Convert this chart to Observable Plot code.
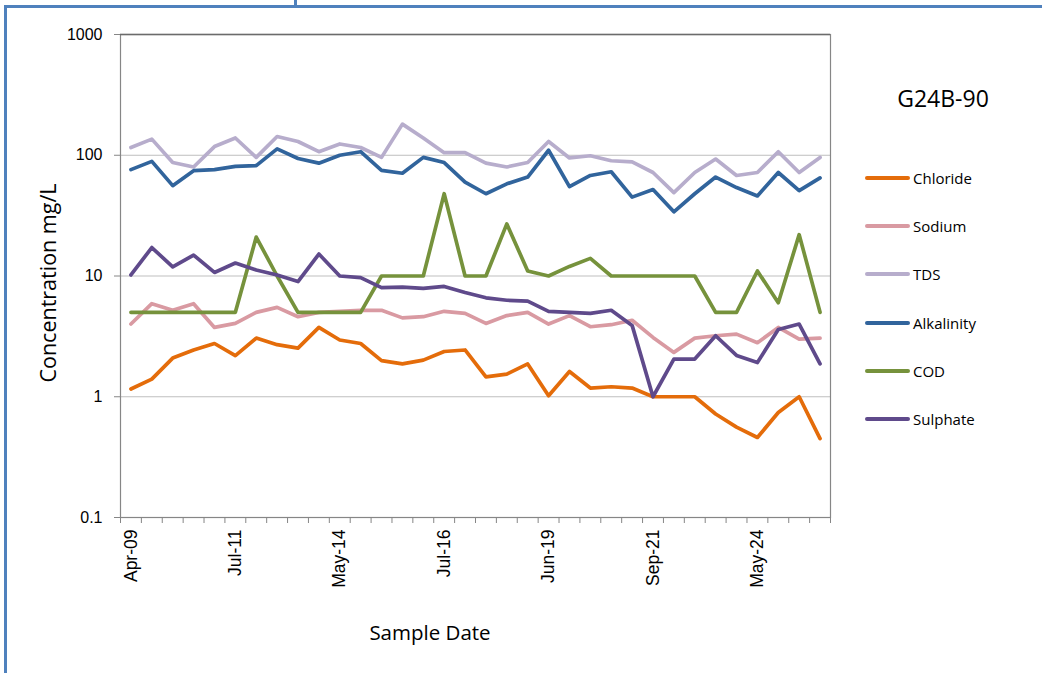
<!DOCTYPE html>
<html>
<head>
<meta charset="utf-8">
<script src="https://cdn.jsdelivr.net/npm/d3@7"></script>
<script src="https://cdn.jsdelivr.net/npm/@observablehq/plot@0.6"></script>
<style>
  html, body { margin: 0; padding: 0; background: #fff; }
  #wrap { position: relative; width: 1042px; height: 673px; overflow: hidden; font-family: "Open Sans", "Noto Sans", sans-serif; color: #000; }
  #wrap svg { position: absolute; left: 0; top: 0; }
  .bar { position: absolute; background: #4f81bd; }
  .ttl { position: absolute; white-space: nowrap; }
  .leg-item { position: absolute; display: flex; align-items: center; font-size: 15px; white-space: nowrap; }
  .leg-sw { width: 45px; height: 4px; margin-right: 3px; border-radius: 2px; }
</style>
</head>
<body>
<div id="wrap"></div>
<script>
// ---- data ----
const siteName = "G24B-90";
const yTitle = "Concentration mg/L";
const xTitle = "Sample Date";
const tickLabels = ["Apr-09", "Jul-11", "May-14", "Jul-16", "Jun-19", "Sep-21", "May-24"];
const labelEvery = 5; // one date label every 5 samples
const yTicks = [0.1, 1, 10, 100, 1000];
const seriesNames = ["Chloride", "Sodium", "TDS", "Alkalinity", "COD", "Sulphate"];
const seriesColors = ["#e46c0a", "#d99aa2", "#b7adcc", "#31649c", "#76923c", "#5f4a8b"];

const chloride   = [1.16,1.40,2.09,2.44,2.76,2.19,3.06,2.70,2.53,3.75,2.95,2.76,1.99,1.87,2.01,2.37,2.44,1.46,1.54,1.87,1.02,1.62,1.18,1.21,1.18,1.0,1.0,1.0,0.72,0.56,0.46,0.74,1.0,0.45];
const sodium     = [4.0,5.9,5.2,5.9,3.75,4.05,5.0,5.5,4.6,5.0,5.1,5.2,5.2,4.5,4.6,5.1,4.9,4.05,4.7,5.0,4.0,4.7,3.8,3.95,4.3,3.1,2.33,3.06,3.2,3.3,2.8,3.75,3.0,3.06];
const tds        = [116,136,87,80,118,139,96,143,130,107,124,116,96,181,139,105,105,86,80,87,130,95,99,90,88,72,49,72,93,68,72,107,72,96];
const alkalinity = [76,89,56,74.5,76,81,82,113,94,86,100,107,75,71,96,87,60,48,58,66,110,55,68,73,45,52,34,48,66,54,46,72,51,65];
const cod        = [5,5,5,5,5,5,21,10,5,5,5,5,10,10,10,48,10,10,27,11,10,12,14,10,10,10,10,10,5,5,11,6,22,5];
const sulphate   = [10.2,17.2,11.9,14.9,10.7,12.8,11.2,10.2,9.0,15.2,10.0,9.7,8.0,8.1,7.9,8.2,7.3,6.6,6.3,6.2,5.1,5.0,4.9,5.2,3.9,1.0,2.05,2.05,3.2,2.2,1.92,3.6,4.0,1.87];

// ---- build ----
(function () {
const seriesValues = [chloride, sodium, tds, alkalinity, cod, sulphate];
const n = chloride.length;
const rows = [];
seriesNames.forEach((name, k) => seriesValues[k].forEach((v, i) => rows.push({series: name, i, v})));

const W = 1042, H = 673;
const pLeft = 120, pRight = 830, pTop = 34, pBottom = 517;
const wrap = document.getElementById("wrap");

const plot = Plot.plot({
  width: W, height: H,
  marginLeft: pLeft, marginRight: W - pRight, marginTop: pTop, marginBottom: H - pBottom,
  style: {fontFamily: "'Liberation Sans', Arial, sans-serif", fontSize: "16px", color: "#000", background: "transparent", overflow: "visible"},
  x: {type: "linear", domain: [-0.5, n - 0.5]},
  y: {type: "log", domain: [yTicks[0], yTicks[yTicks.length - 1]]},
  color: {domain: seriesNames, range: seriesColors},
  marks: [
    Plot.ruleY(yTicks.slice(1, -1), {stroke: "#bfbfbf", strokeWidth: 1}),
    Plot.frame({stroke: "#868686", strokeWidth: 1.2}),
    Plot.ruleY([yTicks[yTicks.length - 1]], {stroke: "#6b6b6b", strokeWidth: 1.5}),
    Plot.axisY({ticks: yTicks, tickFormat: d => String(d), tickSize: 6, tickPadding: 12, stroke: "#868686", strokeOpacity: 1, label: null, fontSize: 16}),
    Plot.axisX({ticks: d3.range(n + 1).map(i => i - 0.5), tickFormat: () => "", tickSize: 6, stroke: "#868686", strokeOpacity: 1, label: null}),
    Plot.axisX({ticks: tickLabels.map((_, k) => k * labelEvery), tickFormat: i => tickLabels[Math.round(i / labelEvery)], tickSize: 0, tickRotate: -90, tickPadding: 12, label: null, fontSize: 17.5}),
    Plot.line(rows, {x: "i", y: "v", z: "series", stroke: "series", strokeWidth: 3.7, strokeLinejoin: "round", strokeLinecap: "round"})
  ]
});
wrap.appendChild(plot);

function addDiv(cls, css, text) {
  const d = document.createElement("div");
  d.className = cls;
  Object.assign(d.style, css);
  if (text != null) d.textContent = text;
  wrap.appendChild(d);
  return d;
}
// page frame (blue border)
addDiv("bar", {left: "4px", top: "5px", width: "3px", height: (H - 5) + "px"});
addDiv("bar", {left: "4px", top: "5px", width: (W - 4) + "px", height: "3px"});
addDiv("bar", {left: "294px", top: "0px", width: "3px", height: "5px"});

// axis titles
addDiv("ttl", {left: "47px", top: "283px", fontSize: "21.5px", transform: "translate(-50%,-50%) rotate(-90deg)"}, yTitle);
addDiv("ttl", {left: "430px", top: "632px", fontSize: "20.5px", transform: "translate(-50%,-50%)"}, xTitle);

// legend
addDiv("ttl", {left: "943px", top: "98px", fontSize: "23px", transform: "translate(-50%,-50%)"}, siteName);
seriesNames.forEach((name, k) => {
  const item = addDiv("leg-item", {left: "865px", top: (178 + k * 48.2) + "px", transform: "translateY(-50%)"});
  const sw = document.createElement("span");
  sw.className = "leg-sw";
  sw.style.background = seriesColors[k];
  item.appendChild(sw);
  const t = document.createElement("span");
  t.textContent = name;
  item.appendChild(t);
});
})();
</script>
</body>
</html>
